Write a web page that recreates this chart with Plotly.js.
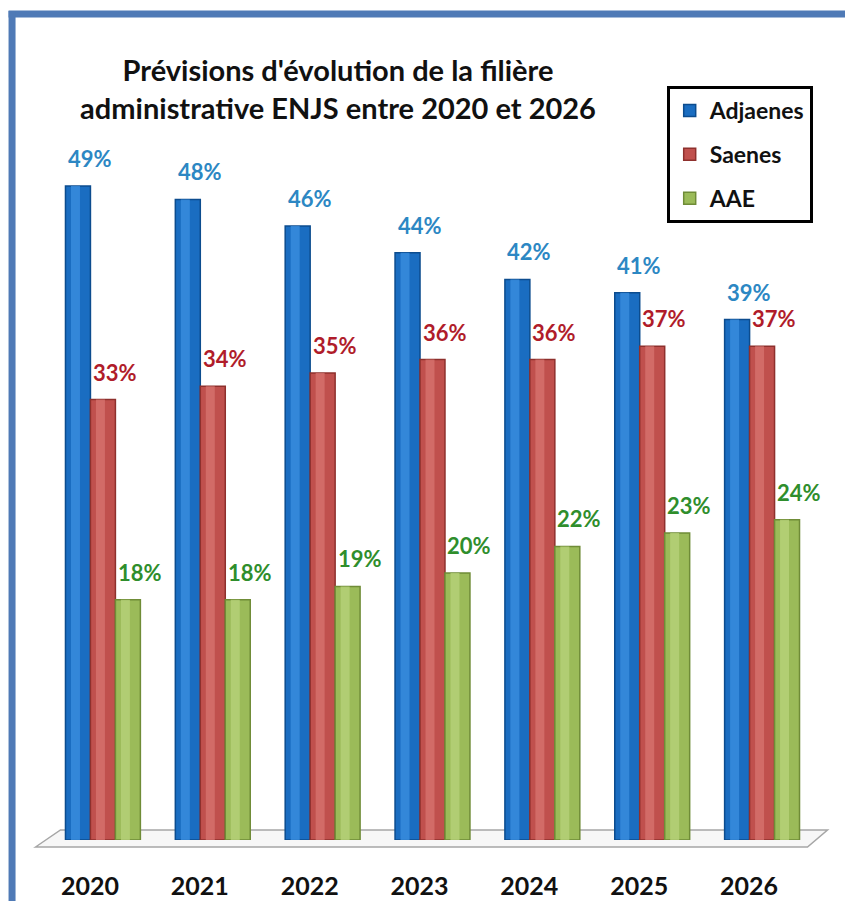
<!DOCTYPE html>
<html>
<head>
<meta charset="utf-8">
<script src="https://cdn.plot.ly/plotly-3.0.1.min.js"></script>
<style>
  html, body { margin: 0; padding: 0; background: #ffffff; }
  #chart { width: 845px; height: 901px; }
</style>
</head>
<body>
<div id="chart"></div>
<script>
// ---- data ----
const years = [2020, 2021, 2022, 2023, 2024, 2025, 2026];
const tickLabels = ["2020", "2021", "2022", "2023", "2024", "2025", "2026"];
const adjaenes = [49, 48, 46, 44, 42, 41, 39];
const saenes   = [33, 34, 35, 36, 36, 37, 37];
const aae      = [18, 18, 19, 20, 22, 23, 24];
const seriesNames = ["Adjaenes", "Saenes", "AAE"];
const titleText = "Prévisions d'évolution de la filière<br>administrative ENJS entre 2020 et 2026";

// ---- styling ----
const W = 845, H = 901;
const mL = 47.5, mR = 27.5, mT = 106, mB = 61;
const plotW = W - mL - mR, plotH = H - mT - mB;
const yMax = 55;
const barW = 25 / 110;
const offsets = [-1.5 * barW, -0.5 * barW, 0.5 * barW];
const mid   = ["#1A6DC1", "#C0504D", "#9BBB59"];
const edge  = ["#0C4C8E", "#8E302D", "#6F8C37"];
const light = ["#3C90E2", "#D87470", "#B9D47C"];
const labelColors = ["#2C87C3", "#B01C2A", "#2F8E2C"];
const allSeries = [adjaenes, saenes, aae];
const FONT = "Lato, 'Open Sans', sans-serif";

const traces = [];
allSeries.forEach((vals, i) => {
  traces.push({
    type: "bar", x: years, y: vals, name: seriesNames[i],
    offset: offsets[i], width: barW,
    marker: { color: mid[i], line: { color: edge[i], width: 1.5 } },
    legendgroup: "g" + i, showlegend: true, hoverinfo: "skip"
  });
});
// cylinder highlight strips (same data)
allSeries.forEach((vals, i) => {
  traces.push({
    type: "bar", x: years, y: vals, name: seriesNames[i],
    offset: offsets[i] + barW * 0.22, width: barW * 0.36,
    marker: { color: light[i], line: { width: 0 } }, opacity: 0.75,
    legendgroup: "g" + i, showlegend: false, hoverinfo: "skip"
  });
});

const annotations = [];
allSeries.forEach((vals, i) => {
  vals.forEach((v, j) => {
    annotations.push({
      x: years[j] + offsets[i] + barW / 2, y: v, xref: "x", yref: "y",
      text: v + "%", showarrow: false, xanchor: "center", yanchor: "bottom",
      xshift: 12, yshift: 12,
      font: { family: FONT, size: 22, color: labelColors[i], weight: 700 }
    });
  });
});

// helpers to place decorations in pixel terms
const px = (x) => (x - mL) / plotW;
const py = (y) => (H - mB - y) / plotH;

const shapes = [
  // floor plane
  {
    type: "path", xref: "paper", yref: "paper", layer: "below",
    path: `M ${px(35)} ${py(847)} L ${px(60)} ${py(830)} L ${px(828)} ${py(830)} L ${px(808)} ${py(847)} Z`,
    line: { color: "#A6A6A6", width: 1.5 }, fillcolor: "#F7F7F7"
  },
  // blue outer frame: top and left edges
  {
    type: "line", xref: "paper", yref: "paper", layer: "above",
    x0: px(8), x1: px(860), y0: py(14), y1: py(14),
    line: { color: "#4F7AB6", width: 7 }
  },
  {
    type: "line", xref: "paper", yref: "paper", layer: "above",
    x0: px(11.5), x1: px(11.5), y0: py(11), y1: py(910),
    line: { color: "#4F7AB6", width: 7 }
  }
];

const layout = {
  width: W, height: H,
  margin: { l: mL, r: mR, t: mT, b: mB, pad: 0 },
  paper_bgcolor: "#ffffff", plot_bgcolor: "rgba(0,0,0,0)",
  barmode: "overlay",
  title: {
    text: titleText, x: 338 / W, xanchor: "center", xref: "container",
    y: 1 - 81 / H, yanchor: "middle", yref: "container",
    font: { family: FONT, size: 29, color: "#111111", weight: 700 }
  },
  xaxis: {
    range: [2019.5, 2026.5], tickvals: years, ticktext: tickLabels,
    showgrid: false, zeroline: false, showline: false, ticks: "",
    ticklabelstandoff: 29, ticklabelshift: -13,
    tickfont: { family: FONT, size: 25, color: "#111111", weight: 700 },
    fixedrange: true
  },
  yaxis: {
    range: [0, yMax], visible: false, showgrid: false, zeroline: false, fixedrange: true
  },
  legend: {
    x: px(667), y: py(86), xanchor: "left", yanchor: "top",
    bordercolor: "#000000", borderwidth: 3, bgcolor: "#ffffff",
    font: { family: FONT, size: 23, color: "#111111", weight: 700 },
    tracegroupgap: 11, traceorder: "grouped", itemwidth: 30, entrywidth: 142
  },
  annotations: annotations,
  shapes: shapes,
  showlegend: true
};

Plotly.newPlot("chart", traces, layout, { staticPlot: true, displayModeBar: false });
</script>
</body>
</html>
